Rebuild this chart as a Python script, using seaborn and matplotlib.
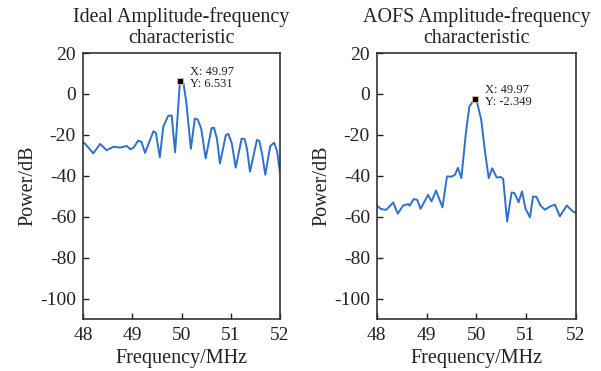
import numpy as np
import pandas as pd
import matplotlib
matplotlib.use("Agg")
import matplotlib.pyplot as plt
import seaborn as sns

# ideal amplitude-frequency response
ideal_freq = [48.00, 48.05, 48.21, 48.35, 48.48, 48.62, 48.75, 48.89, 48.96, 49.03,
              49.12, 49.19, 49.26, 49.43, 49.48, 49.56, 49.63, 49.73, 49.80, 49.87,
              49.97, 50.04, 50.10, 50.19, 50.27, 50.33, 50.40, 50.49, 50.61, 50.66,
              50.72, 50.78, 50.90, 50.95, 51.02, 51.10, 51.22, 51.28, 51.33, 51.39,
              51.53, 51.58, 51.64, 51.70, 51.80, 51.88, 51.94, 52.00]
ideal_db = [-23.5, -24.5, -29.0, -24.4, -27.5, -25.8, -26.2, -25.4, -27.0, -26.2,
            -22.8, -23.5, -28.8, -18.2, -19.0, -31.0, -16.0, -10.7, -10.5, -28.5,
            6.531, 5.2, -4.5, -26.8, -12.0, -12.5, -17.0, -31.5, -16.7, -16.5,
            -22.0, -34.0, -20.0, -19.5, -24.0, -36.0, -21.8, -22.0, -27.0, -38.0,
            -22.5, -23.0, -30.0, -39.5, -25.5, -23.8, -28.0, -38.5]

# AOFS amplitude-frequency response
aofs_freq = [48.00, 48.09, 48.19, 48.33, 48.42, 48.53, 48.63, 48.66, 48.74, 48.81,
             48.88, 49.03, 49.10, 49.19, 49.32, 49.41, 49.50, 49.57, 49.63, 49.70,
             49.79, 49.86, 49.97, 50.02, 50.10, 50.17, 50.25, 50.32, 50.41, 50.49,
             50.54, 50.62, 50.71, 50.77, 50.85, 50.92, 50.99, 51.08, 51.14, 51.21,
             51.29, 51.38, 51.48, 51.58, 51.68, 51.82, 51.94, 52.00]
aofs_db = [-54.5, -56.3, -56.6, -53.0, -58.5, -54.5, -53.8, -54.6, -51.4, -51.7,
           -56.1, -49.3, -52.5, -47.2, -55.4, -40.3, -40.4, -39.5, -36.1, -41.1,
           -19.2, -6.2, -2.349, -4.5, -12.7, -27.3, -41.1, -36.3, -40.8, -40.6,
           -41.5, -62.3, -48.1, -48.5, -52.9, -47.6, -56.1, -60.3, -50.1, -50.3,
           -54.5, -56.6, -55.0, -54.1, -59.8, -54.5, -57.4, -58.0]

titles = ["Ideal Amplitude-frequency\ncharacteristic",
          "AOFS Amplitude-frequency\ncharacteristic"]
peaks = [(49.97, 6.531), (49.97, -2.349)]
peak_labels = ["X: 49.97\nY: 6.531", "X: 49.97\nY: -2.349"]

sns.set_style("ticks")
plt.rcParams["font.family"] = ["Liberation Serif", "DejaVu Serif"]
plt.rcParams["axes.unicode_minus"] = False

fig = plt.figure(figsize=(6.01, 3.71), dpi=100)
ax1 = fig.add_axes([0.138, 0.140, 0.328, 0.717])
ax2 = fig.add_axes([0.627, 0.140, 0.331, 0.717])

dfs = [pd.DataFrame({"freq": ideal_freq, "db": ideal_db}),
       pd.DataFrame({"freq": aofs_freq, "db": aofs_db})]

for ax, df, title, pk, lab in zip([ax1, ax2], dfs, titles, peaks, peak_labels):
    sns.lineplot(data=df, x="freq", y="db", ax=ax, color="#2f6fce", linewidth=1.4)
    ax.plot([pk[0]], [pk[1]], marker="s", color="black", markersize=5,
            markeredgecolor="#d8c8a0", markeredgewidth=0.6)
    ax.annotate(lab, xy=pk, xytext=(7, 2), textcoords="offset points",
                va="center", ha="left", fontsize=9, linespacing=0.95,
                color="#222222")
    ax.set_xlim(48, 52)
    ax.set_ylim(-110, 20)
    ax.set_xticks([48, 49, 50, 51, 52])
    ax.set_yticks([20, 0, -20, -40, -60, -80, -100])
    ax.tick_params(direction="in", length=4, width=1, labelsize=14,
                   colors="#222222")
    ax.tick_params(axis="x", pad=6)
    ax.tick_params(axis="y", pad=5)
    ax.set_xlabel("Frequency/MHz", fontsize=14.5, color="#222222", labelpad=3)
    ax.set_ylabel("Power/dB", fontsize=14.5, color="#222222", labelpad=2)
    ax.set_title(title, fontsize=14.4, color="#222222", linespacing=1.2, pad=7)
    for s in ax.spines.values():
        s.set_visible(True)
        s.set_color("#333333")
        s.set_linewidth(1.2)

fig.savefig("out.png", dpi=100)
